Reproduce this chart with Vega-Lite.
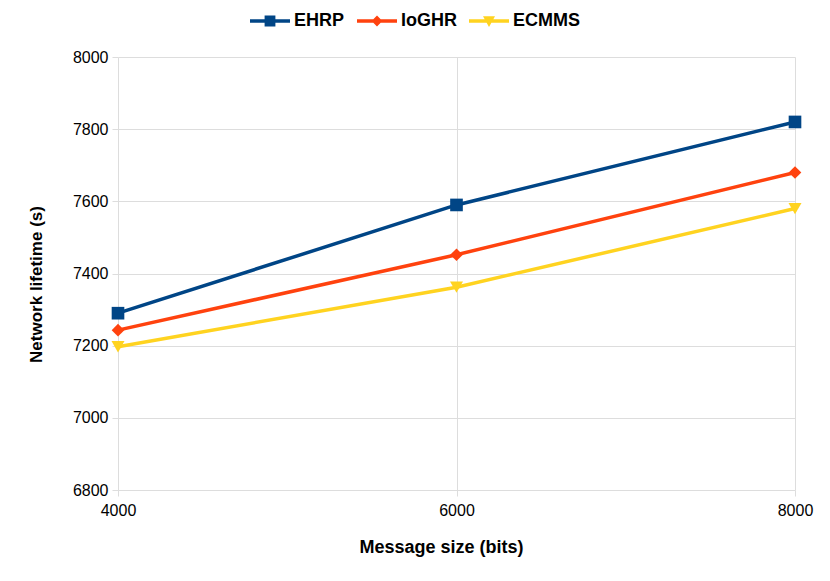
{
  "$schema": "https://vega.github.io/schema/vega-lite/v6.json",
  "autosize": "none",
  "width": 677,
  "height": 433,
  "padding": {"left": 118, "top": 57, "right": 35, "bottom": 91},
  "background": "white",
  "config": {
    "font": "Liberation Sans",
    "view": {"stroke": null},
    "axis": {
      "labelFont": "Liberation Sans",
      "labelFontSize": 16,
      "labelColor": "#000000",
      "titleFont": "Liberation Sans",
      "titleFontWeight": "bold",
      "titleColor": "#000000",
      "gridColor": "#dddddd",
      "tickColor": "#dddddd",
      "tickSize": 6,
      "domain": false,
      "format": "d"
    }
  },
  "data": {
    "values": [
      {"size": 4000, "series": "EHRP", "lifetime": 7290},
      {"size": 6000, "series": "EHRP", "lifetime": 7590},
      {"size": 8000, "series": "EHRP", "lifetime": 7820},
      {"size": 4000, "series": "IoGHR", "lifetime": 7243},
      {"size": 6000, "series": "IoGHR", "lifetime": 7452},
      {"size": 8000, "series": "IoGHR", "lifetime": 7680},
      {"size": 4000, "series": "ECMMS", "lifetime": 7197},
      {"size": 6000, "series": "ECMMS", "lifetime": 7362},
      {"size": 8000, "series": "ECMMS", "lifetime": 7580}
    ]
  },
  "encoding": {
    "x": {
      "field": "size", "type": "quantitative",
      "scale": {"domain": [4000, 8000], "nice": false, "zero": false},
      "axis": {"values": [4000, 6000, 8000], "title": "Message size (bits)", "titleFontSize": 18, "titleY": 48, "titleX": 323, "labelPadding": 6, "labelFlush": false}
    },
    "y": {
      "field": "lifetime", "type": "quantitative",
      "scale": {"domain": [6800, 8000], "nice": false, "zero": false},
      "axis": {"values": [6800, 7000, 7200, 7400, 7600, 7800, 8000], "title": "Network lifetime (s)", "titleFontSize": 17, "titleX": -73, "titleY": 227, "labelPadding": 4}
    },
    "color": {
      "field": "series", "type": "nominal",
      "scale": {"domain": ["EHRP", "IoGHR", "ECMMS"], "range": ["#004586", "#ff420e", "#ffd320"]}
    }
  },
  "layer": [
    {
      "mark": {"type": "line", "strokeWidth": 3.5},
      "encoding": {
        "color": {
          "field": "series", "type": "nominal",
          "scale": {"domain": ["EHRP", "IoGHR", "ECMMS"], "range": ["#004586", "#ff420e", "#ffd320"]},
          "legend": {
            "title": null, "orient": "none", "direction": "horizontal",
            "legendX": 132, "legendY": -56,
            "labelFont": "Liberation Sans",
            "labelFontSize": 18, "labelFontWeight": "bold", "labelColor": "#000000",
            "symbolSize": 1600, "symbolStrokeWidth": 0, "columnPadding": 12, "labelOffset": 4,
            "encode": {
              "symbols": {
                "update": {
                  "shape": {"signal": "datum.value === 'EHRP' ? 'M-1,-0.09H1V0.09H-1ZM-0.27,-0.27H0.27V0.27H-0.27Z' : datum.value === 'IoGHR' ? 'M-1,-0.09H1V0.09H-1ZM-0.27,0L0,-0.27L0.27,0L0,0.27Z' : 'M-1,-0.09H1V0.09H-1ZM-0.3,-0.24H0.3L0,0.3Z'"},
                  "fill": {"signal": "datum.value === 'EHRP' ? '#004586' : datum.value === 'IoGHR' ? '#ff420e' : '#ffd320'"},
                  "fillOpacity": {"value": 1},
                  "strokeWidth": {"value": 0},
                  "opacity": {"value": 1}
                }
              }
            }
          }
        }
      }
    },
    {
      "transform": [{"filter": "datum.series === 'EHRP'"}],
      "mark": {"type": "point", "shape": "square", "filled": true, "size": 160, "opacity": 1},
      "encoding": {"color": {"field": "series", "type": "nominal", "legend": null}}
    },
    {
      "transform": [{"filter": "datum.series === 'IoGHR'"}],
      "mark": {"type": "point", "shape": "diamond", "filled": true, "size": 160, "opacity": 1},
      "encoding": {"color": {"field": "series", "type": "nominal", "legend": null}}
    },
    {
      "transform": [{"filter": "datum.series === 'ECMMS'"}],
      "mark": {"type": "point", "shape": "triangle-down", "filled": true, "size": 170, "opacity": 1},
      "encoding": {"color": {"field": "series", "type": "nominal", "legend": null}}
    }
  ]
}
